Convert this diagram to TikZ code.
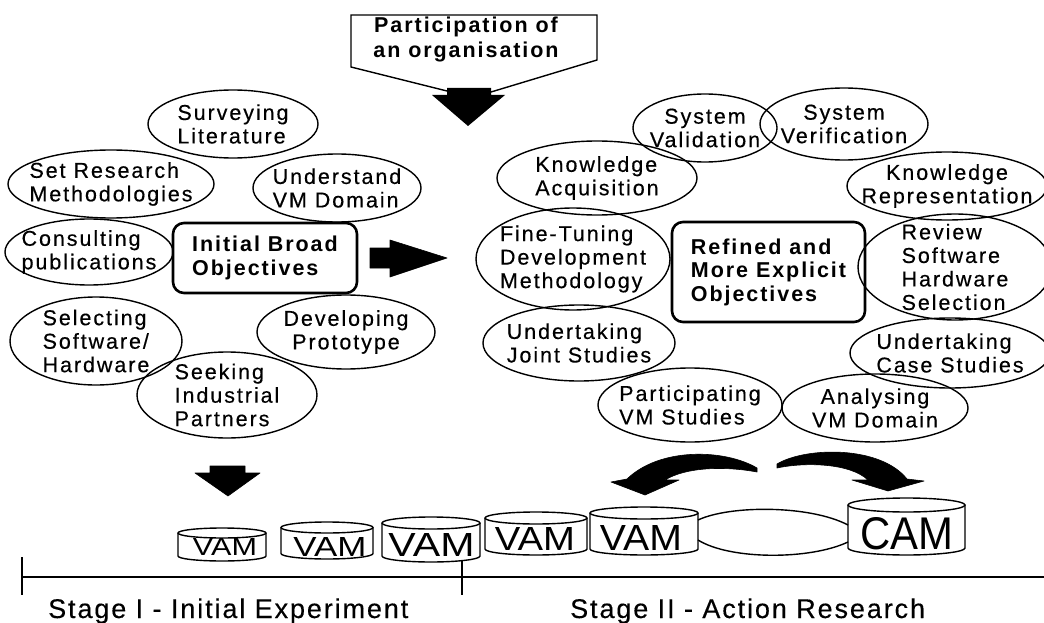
\documentclass[tikz,border=0pt]{standalone}
\usepackage{fontspec}
\usepackage{graphicx}
\setmainfont{Liberation Sans}
\newfontfamily\bubfont[LetterSpace=9, FakeBold=0.4]{Liberation Sans}
\newfontfamily\objfont[LetterSpace=9]{Liberation Sans}
\newfontfamily\stagefont[LetterSpace=7, FakeBold=0.3]{Liberation Sans}
\usetikzlibrary{shapes.geometric}

\tikzset{
  bub/.style={ellipse, draw, line width=1.4pt, inner sep=0pt, outer sep=0pt},
  bubtext/.style={inner sep=0pt, font=\bubfont\fontsize{21.5}{23.5}\selectfont},
  objbox/.style={draw, rounded corners=11pt, line width=2.6pt, inner sep=0pt,
    align=left, font=\objfont\bfseries\fontsize{21.5}{23.5}\selectfont},
  headtext/.style={inner sep=0pt, align=center,
    font=\objfont\bfseries\fontsize{21.5}{25}\selectfont},
  cylbox/.style={draw=none, inner sep=0pt, outer sep=0pt},
  cylline/.style={line width=1.4pt},
  cyltext/.style={inner sep=0pt},
  stagetext/.style={inner sep=0pt, anchor=base west,
    font=\stagefont\fontsize{27}{30}\selectfont},
  fatarrow/.style={fill=black, draw=black, line width=0.6pt, line join=round},
  axisline/.style={line width=1.8pt},
  tickline/.style={line width=1.2pt},
  lens/.style={line width=1.4pt}
}

% ellipse bubble: name, x, y, x radius, y radius, alignment, text
\newcommand\bubble[7]{%
  \node[bub, minimum width=2*#4, minimum height=2*#5,
        label={[bubtext, align=#6]center:{#7}}] (#1) at (#2,#3) {};}

% storage drum: name, centre x, top y, width, height, end radius
\newcommand\drawdrum[6]{%
  \node[cylbox, minimum width=#4, minimum height=#5, anchor=north] (#1) at (#2,#3) {};
  \draw[cylline] ([yshift=-#6pt]#1.north) ellipse [x radius=#4/2, y radius=#6];
  \draw[cylline] ([yshift=-#6pt]#1.north west) -- ([yshift=#6pt]#1.south west)
    arc [start angle=180, end angle=0, x radius=#4/2, y radius=#6]
    -- ([yshift=-#6pt]#1.north east);}

\begin{document}
\begin{tikzpicture}[x=1pt, y=-1pt]
\useasboundingbox (0,0) rectangle (1044,623);
\clip (0,0) rectangle (1044,623);

% --- organisation input ---
\node[headtext] (org) at (466,39) {Participation of\\an organisation};
\draw[line width=1.4pt, line join=miter] (447,91) -- (351,67) -- (351,15) -- (597,15) -- (597,60) -- (491,92);
\fill (447,88) -- (491,88) -- (491,95) -- (505,95) -- (468,126) -- (432,95) -- (447,95) -- cycle;

% --- stage I activities ---
\bubble{surv}{233}{124}{85}{34}{left}{Surveying\\Literature}
\bubble{setr}{111}{184}{103}{34}{left}{Set Research\\Methodologies}
\bubble{undvm}{337}{188}{84}{34}{left}{Understand\\VM Domain}
\bubble{cons}{89}{252}{84}{33}{left}{Consulting\\publications}
\bubble{sel}{96}{341}{86}{44}{left}{Selecting\\Software/\\Hardware}
\bubble{devp}{346}{332}{89}{37}{center}{Developing\\Prototype}
\bubble{seek}{227}{395}{90}{43}{left}{Seeking\\Industrial\\Partners}

\node[objbox, minimum width=184, minimum height=70] (initobj) at (265,258)
  {Initial Broad\\Objectives};

% fat arrow between the two objective boxes
\fill[fatarrow] (370,248) -- (390,248) -- (390,240) -- (447,258) -- (390,277)
  -- (390,268) -- (370,268) -- cycle;

% --- stage II activities ---
\bubble{sval}{705}{128}{72}{34}{center}{System\\Validation}
\bubble{sver}{844}{124}{84}{36}{center}{System\\Verification}
\bubble{kacq}{597}{178}{100}{37}{left}{Knowledge\\Acquisition}
\bubble{krep}{947}{186}{100}{34}{center}{Knowledge\\Representation}
\bubble{fine}{573}{259}{97}{51}{left}{Fine-Tuning\\Development\\Methodology}
\bubble{revw}{955}{267}{97}{53}{left}{Review\\Software\\Hardware\\Selection}
\bubble{joint}{579}{343}{96}{38}{left}{Undertaking\\Joint Studies}
\bubble{casest}{950}{353}{100}{35}{left}{Undertaking\\Case Studies}
\bubble{partvm}{690}{405}{92}{37}{left}{Participating\\VM Studies}
\bubble{analvm}{875}{408}{93}{34}{center}{Analysing\\VM Domain}

\node[objbox, minimum width=193, minimum height=100] (refobj) at (768.5,272)
  {Refined and\\More Explicit\\Objectives};

% --- arrows towards the models ---
\fill[fatarrow] (210,466) -- (245,466) -- (245,473) -- (260,473) -- (228,496)
  -- (195,473) -- (210,473) -- cycle;
\fill[fatarrow] (757,468) .. controls (725,449) and (660,447) .. (627,479)
  -- (611,482) -- (645,495) -- (679,480) -- (665,480)
  .. controls (686,467) and (725,466) .. (757,472) -- cycle;
\fill[fatarrow] (777,464) .. controls (805,447) and (880,445) .. (907,479)
  -- (924,481) -- (888,491) -- (852,480) -- (868,480)
  .. controls (850,463) and (805,462) .. (777,468) -- cycle;

% --- model drums ---
\drawdrum{vam1}{222}{528}{88}{33}{5}
\drawdrum{vam2}{327}{522}{92}{37}{5.5}
\drawdrum{vam3}{431}{517}{98}{45}{6}
\drawdrum{vam4}{536}{512}{102}{43}{6}
\drawdrum{vam5}{644}{507}{108}{48}{6}
\drawdrum{cam}{906.5}{498}{117}{57}{7}

\node[cyltext] (vam1t) at (225,546.5) {\resizebox{64pt}{17pt}{VAM}};
\node[cyltext] (vam2t) at (330,546.5) {\resizebox{73pt}{19pt}{VAM}};
\node[cyltext] (vam3t) at (431.5,545) {\resizebox{86pt}{23pt}{VAM}};
\node[cyltext] (vam4t) at (535,538.5) {\resizebox{80pt}{23pt}{VAM}};
\node[cyltext] (vam5t) at (641,537.5) {\resizebox{82pt}{25pt}{VAM}};
\node[cyltext] (camt) at (906.5,534) {\resizebox{93pt}{32pt}{CAM}};

% link between the last VAM and the CAM
\draw[lens] ([yshift=11pt]vam5.east) .. controls (730,505) and (810,505) .. ([yshift=1.5pt]cam.west);
\draw[lens] ([yshift=-9pt]vam5.east) .. controls (730,560) and (810,560) .. ([yshift=-15.5pt]cam.west);

% --- time line ---
\draw[axisline] (22,577) -- (1044,577);
\draw[tickline] (22,557) -- (22,595);
\draw[tickline] (462,561) -- (462,595);

\node[stagetext] (st1) at (48,618) {Stage I - Initial Experiment};
\node[stagetext] (st2) at (570,618) {Stage II - Action Research};
\end{tikzpicture}
\end{document}
